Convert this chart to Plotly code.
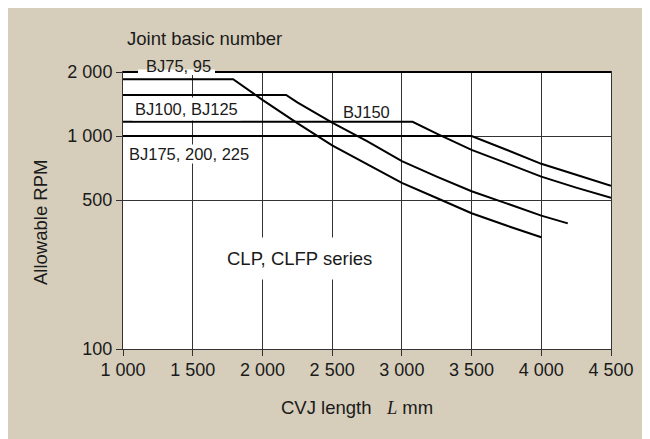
import math
import plotly.graph_objects as go

# ---- data ----
x_ticks = [1000, 1500, 2000, 2500, 3000, 3500, 4000, 4500]
x_tick_labels = ["1 000", "1 500", "2 000", "2 500", "3 000", "3 500", "4 000", "4 500"]
y_ticks = [100, 500, 1000, 2000]
y_tick_labels = ["100", "500", "1 000", "2 000"]

# BJ75, 95
L_bj75 = [1000, 1790, 2000, 2250, 2500, 2750, 3000, 3250, 3500, 3750, 4000]
N_bj75 = [1850, 1850, 1480, 1150, 905, 738, 603, 512, 434, 380, 335]
# BJ100, BJ125
L_bj100 = [1000, 2170, 2250, 2500, 2750, 3000, 3250, 3500, 3750, 4000, 4190]
N_bj100 = [1560, 1560, 1440, 1156, 946, 762, 645, 551, 483, 423, 389]
# BJ150
L_bj150 = [1000, 3077, 3250, 3500, 3750, 4000, 4250, 4500]
N_bj150 = [1167, 1167, 1027, 862, 746, 645, 573, 513]
# BJ175, 200, 225
L_bj175 = [1000, 3500, 3750, 4000, 4250, 4500]
N_bj175 = [1000, 1000, 863, 741, 658, 584]

series = [(L_bj75, N_bj75), (L_bj100, N_bj100), (L_bj150, N_bj150), (L_bj175, N_bj175)]

BEIGE = "#d6cebb"
GRID = "#333333"
FONT = "Liberation Sans, Arial, Helvetica, sans-serif"

fig = go.Figure()
for xs, ys in series:
    fig.add_trace(go.Scatter(x=xs, y=ys, mode="lines",
                             line=dict(color="black", width=2),
                             showlegend=False, hoverinfo="skip"))

OFF = 8  # page offset of the figure (body margin)
W, H = 650 - OFF, 439 - OFF
ml, mr, mt, mb = 115, 39, 64, 90
pw, ph = W - ml - mr, H - mt - mb

def px(xpage):
    return (xpage - OFF - ml) / pw

def py(ypage):
    return (H - mb - (ypage - OFF)) / ph

fig.update_layout(
    width=W, height=H,
    margin=dict(l=ml, r=mr, t=mt, b=mb, pad=0),
    paper_bgcolor=BEIGE, plot_bgcolor="white",
    font=dict(family=FONT, size=18, color="#1a1a1a"),
    showlegend=False,
)
fig.update_xaxes(range=[1000, 4500], tickvals=x_ticks, ticktext=x_tick_labels,
                 showgrid=True, gridcolor=GRID, gridwidth=1,
                 showline=True, mirror=True, linecolor=GRID, linewidth=1,
                 ticks="outside", ticklen=6, tickcolor=GRID, tickwidth=1,
                 zeroline=False, tickfont=dict(size=18), ticklabelstandoff=-2)
fig.update_yaxes(type="log", range=[2, math.log10(2000)], tickvals=y_ticks, ticktext=y_tick_labels,
                 showgrid=True, gridcolor=GRID, gridwidth=1,
                 showline=True, mirror=True, linecolor=GRID, linewidth=1,
                 ticks="outside", ticklen=6, tickcolor=GRID, tickwidth=1,
                 zeroline=False, tickfont=dict(size=18))

# thick top frame line
fig.add_shape(type="line", xref="paper", yref="paper", x0=0, x1=1, y0=1, y1=1,
              line=dict(color="black", width=2), layer="above")
# white gap in top line under the "BJ75, 95" label
fig.add_shape(type="rect", xref="paper", yref="paper", x0=px(138), x1=px(215), y0=py(75), y1=py(69.5),
              fillcolor="white", line=dict(width=0), layer="above")

def ann(text, x, y, size, bg=None, pad=0, angle=0):
    fig.add_annotation(text=text, xref="paper", yref="paper", x=px(x), y=py(y),
                       xanchor="center", yanchor="middle", showarrow=False,
                       font=dict(family=FONT, size=size, color="#1a1a1a"),
                       bgcolor=bg if bg else "rgba(0,0,0,0)", borderpad=pad, textangle=angle)

ann("Joint basic number", 204, 38.5, 18.5)
ann("BJ75, 95", 178, 66, 16.5)
ann("BJ100, BJ125", 186.7, 109, 16.5, bg="white", pad=2)
ann("BJ150", 366.7, 112, 16.5)
ann("BJ175, 200, 225", 189, 153.5, 16.5, bg="white", pad=0)
ann("CLP, CLFP series", 299, 258, 18.5, bg="white", pad=10)
ann("Allowable RPM", 40, 223, 18.5, angle=-90)
ann("CVJ length&nbsp;&nbsp;&nbsp;<span style='font-family:Liberation Serif, Times New Roman, serif'><i>L</i></span> mm",
    356.5, 407, 18.5)

fig.write_html("out.html")
